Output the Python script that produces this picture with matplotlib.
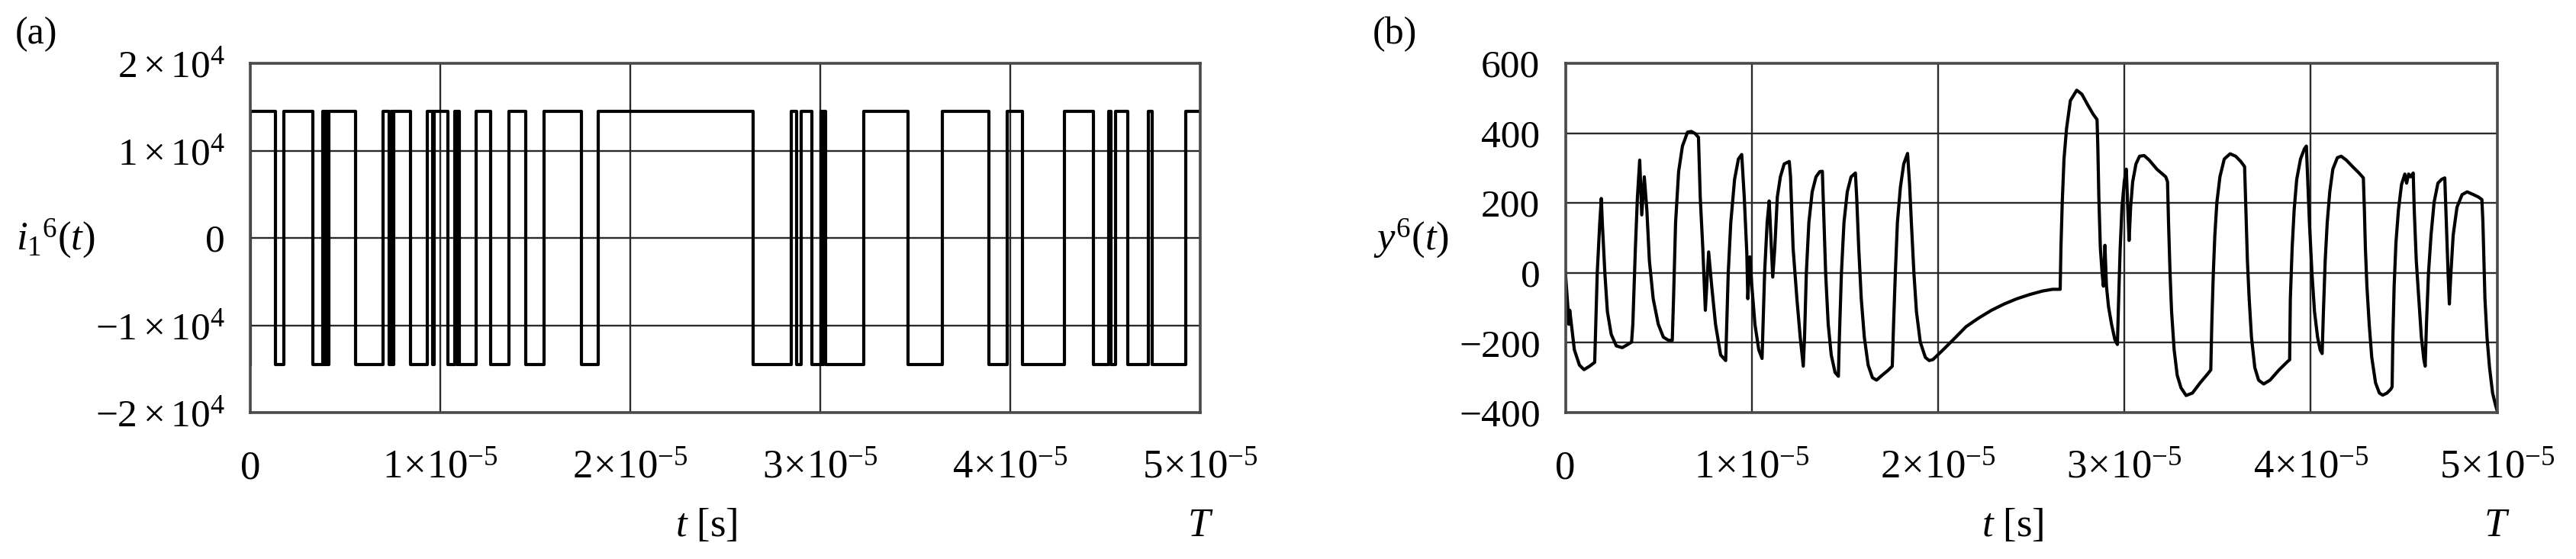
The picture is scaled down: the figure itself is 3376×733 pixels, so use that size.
import matplotlib
matplotlib.use("Agg")
import matplotlib.pyplot as plt

plt.rcParams['font.family'] = 'Liberation Serif'
plt.rcParams['mathtext.fontset'] = 'custom'
plt.rcParams['mathtext.rm'] = 'Liberation Serif'
plt.rcParams['mathtext.it'] = 'Liberation Serif:italic'

# --- data (time in units of 1e-5 s) ---
nivel_a = 14500
# instants where i_1^6 switches (first switch at t=0 goes up, then alternates)
trocas_a = [0.0, 0.133, 0.175, 0.330, 0.380, 0.390, 0.398, 0.405, 0.412, 0.555,
            0.697, 0.732, 0.742, 0.747, 0.753, 0.842, 0.933, 0.958, 0.967, 1.038,
            1.077, 1.087, 1.092, 1.100, 1.187, 1.263, 1.362, 1.450, 1.545, 1.742,
            1.830, 2.647, 2.847, 2.875, 2.897, 2.955, 3.003, 3.010, 3.017, 3.027,
            3.230, 3.463, 3.643, 3.888, 3.983, 4.063, 4.283, 4.438, 4.518, 4.530,
            4.555, 4.617, 4.727, 4.747, 4.922]

t_b = [0.0, 0.0137, 0.0177, 0.0232, 0.0478, 0.0751, 0.0996, 0.1297, 0.1570, 0.1706,
       0.1843, 0.1925, 0.1979, 0.2116, 0.2252, 0.2457, 0.2730, 0.3044, 0.3344, 0.3549,
       0.3617, 0.3754, 0.3863, 0.3986, 0.4095, 0.4232, 0.4368, 0.4505, 0.4709, 0.4982,
       0.5255, 0.5528, 0.5733, 0.5801, 0.5911, 0.6074, 0.6279, 0.6552, 0.6757, 0.6961,
       0.7139, 0.7234, 0.7371, 0.7508, 0.7685, 0.7849, 0.8054, 0.8327, 0.8600, 0.8736,
       0.8873, 0.9077, 0.9282, 0.9460, 0.9596, 0.9733, 0.9787, 0.9896, 1.0005, 1.0169,
       1.0374, 1.0551, 1.0688, 1.0824, 1.0934, 1.1125, 1.1234, 1.1370, 1.1534, 1.1739,
       1.2012, 1.2080, 1.2217, 1.2421, 1.2599, 1.2763,
       1.2831, 1.2927, 1.3063, 1.3241, 1.3445, 1.3650, 1.3787, 1.3855, 1.3964, 1.4101,
       1.4264, 1.4469, 1.4647, 1.4701, 1.4810, 1.4947, 1.5124, 1.5329, 1.5561, 1.5629,
       1.5739, 1.5875, 1.6039, 1.6244, 1.6476, 1.6694, 1.6994, 1.7336, 1.7540, 1.7609,
       1.7704, 1.7814, 1.7977, 1.8155, 1.8359, 1.8469, 1.8564, 1.8701, 1.8837, 1.9042,
       1.9315, 1.9520, 1.9724, 2.0270, 2.0816, 2.1499, 2.2181, 2.2864, 2.3546, 2.4229,
       2.4911, 2.5594, 2.6140,
       2.6549, 2.6590, 2.6659, 2.6754, 2.6891, 2.7095, 2.7436, 2.7709, 2.8050, 2.8323,
       2.8528, 2.8569, 2.8624, 2.8706, 2.8801, 2.8869, 2.8951, 2.9033, 2.9142, 2.9306,
       2.9484, 2.9620, 2.9688, 2.9770, 2.9866, 2.9989, 3.0098, 3.0180, 3.0248, 3.0330,
       3.0440, 3.0617, 3.0808, 3.1054, 3.1327, 3.1736, 3.2214, 3.2310, 3.2364, 3.2446,
       3.2528, 3.2665, 3.2829, 3.3033, 3.3306, 3.3648, 3.4057, 3.4467, 3.4631, 3.4685,
       3.4767, 3.4849, 3.4958, 3.5122, 3.5354, 3.5668, 3.5968, 3.6241, 3.6446, 3.6515,
       3.6597, 3.6692, 3.6815, 3.6993, 3.7197, 3.7470, 3.7812, 3.8290, 3.8767, 3.8863,
       3.8901, 3.8997, 3.9106, 3.9243, 3.9447, 3.9652, 3.9761, 3.9816, 3.9925, 4.0061,
       4.0198, 4.0362, 4.0498, 4.0607, 4.0676, 4.0771, 4.0880, 4.1017, 4.1181, 4.1426,
       4.1631, 4.1904, 4.2246, 4.2587, 4.2819, 4.2874, 4.2928, 4.3010, 4.3133, 4.3270,
       4.3474, 4.3679, 4.3857, 4.4089, 4.4294, 4.4362, 4.4403, 4.4471, 4.4567, 4.4703,
       4.4867, 4.5044, 4.5140, 4.5249, 4.5358, 4.5495, 4.5549, 4.5659, 4.5795, 4.5932,
       4.6068, 4.6137, 4.6205, 4.6314, 4.6451, 4.6615, 4.6820, 4.7024, 4.7188, 4.7270,
       4.7366, 4.7434, 4.7516, 4.7639, 4.7843, 4.8116, 4.8389, 4.8730, 4.9003, 4.9180,
       4.9235, 4.9290, 4.9344, 4.9454, 4.9590, 4.9754, 4.9918, 5.0]

y_b = [0, -103, -147, -107, -220, -264, -277, -267, -256, -1,
       144, 213, 144, -1, -111, -176, -209, -214, -205, -198,
       -147, 71, 217, 323, 166, 275, 181, 35, -74, -147,
       -184, -193, -193, -74, 144, 290, 363, 403, 405, 399,
       388, 217, 71, -107, 60, -38, -147, -235, -251, -1,
       144, 268, 326, 339, 217, 57, -74, 46, -38, -147,
       -220, -245, -1, 144, 206, -12, 71, 217, 275, 312,
       319, 275, 71, -74, -184, -267,
       -184, -1, 144, 232, 275, 290, 291, 181, -1, -147,
       -235, -285, -296, -184, -1, 144, 232, 275, 286, 217,
       71, -74, -184, -264, -300, -307, -293, -278, -267, -147,
       -1, 144, 246, 312, 342, 253, 144, -1, -111, -198,
       -242, -251, -248, -220, -191, -154, -129, -107, -89, -74,
       -62, -52, -47,
       -47, 71, 199, 326, 413, 493, 523, 512, 479, 454,
       439, 363, 217, 71, -1, -38, 79, -38, -96, -147,
       -191, -205, -74, 71, 188, 261, 297, 181, 93, 188,
       261, 312, 334, 336, 323, 297, 275, 261, 144, -1,
       -111, -220, -293, -329, -351, -344, -315, -289, -278, -147,
       -1, 108, 202, 275, 326, 341, 334, 319, 304, 181,
       35, -74, -184, -271, -307, -318, -307, -278, -253, -249,
       -74, 71, 181, 268, 326, 355, 363, 290, 144, -1,
       -111, -184, -220, -231, -111, 35, 144, 232, 297, 330,
       334, 323, 304, 286, 272, 181, 71, -38, -147, -242,
       -315, -344, -350, -344, -333, -326, -184, -38, 86, 181,
       253, 283, 257, 283, 275, 286, 181, 35, -74, -184,
       -249, -267, -147, -1, 108, 202, 257, 268, 272, 144,
       -1, -89, -1, 108, 188, 224, 232, 224, 217, 210,
       144, 35, -74, -184, -271, -344, -380, -395]

xticks = [0, 1, 2, 3, 4, 5]
xticklabels = ['0', r'$1\!\times\!10^{-5}$', r'$2\!\times\!10^{-5}$', r'$3\!\times\!10^{-5}$',
               r'$4\!\times\!10^{-5}$', r'$5\!\times\!10^{-5}$']
yticks_a = [-20000, -10000, 0, 10000, 20000]
yticklabels_a = [r'$-2\times10^{4}$', r'$-1\times10^{4}$', '0', r'$1\times10^{4}$', r'$2\times10^{4}$']
yticks_b = [-400, -200, 0, 200, 400, 600]

# step signal for (a)
t_a = [0.0] + trocas_a + [5.0]
i_a = [-nivel_a] + [nivel_a if k % 2 == 0 else -nivel_a for k in range(len(trocas_a))]
i_a = i_a + [i_a[-1]]

figura = plt.figure(figsize=(33.76, 7.33), dpi=100)
ax1 = figura.add_axes([0.0972, 0.2619, 0.3688, 0.6248])
ax2 = figura.add_axes([0.6077, 0.2619, 0.3617, 0.6248])

ax1.plot([t * 1e-5 for t in t_a], i_a, drawstyle='steps-post', color='black', lw=3.0)
ax2.plot([t * 1e-5 for t in t_b], y_b, color='black', lw=3.0)

for ax in (ax1, ax2):
    ax.set_xlim(0, 5e-5)
    ax.set_xticks([x * 1e-5 for x in xticks])
    ax.set_xticklabels(xticklabels, fontsize=38)
    for lab in ax.get_xticklabels():
        lab.set_verticalalignment('baseline')
    ax.tick_params(axis='x', length=0, pad=62)
    ax.tick_params(axis='y', length=0, pad=24, labelsize=37)
    ax.grid(True, color='#2a2a2a', lw=1.7)
    for s in ax.spines.values():
        s.set_color('#4a4a4a')
        s.set_linewidth(2.6)
    ax.text(0.48, -0.354, r'$t$ [s]', transform=ax.transAxes, ha='center', va='baseline', fontsize=38)
    ax.text(1.0, -0.354, r'$T$', transform=ax.transAxes, ha='center', va='baseline', fontsize=38)

ax1.set_ylim(-20000, 20000)
ax1.set_yticks(yticks_a)
ax1.set_yticklabels(yticklabels_a)
ax2.set_ylim(-400, 600)
ax2.set_yticks(yticks_b)
ax2.set_yticklabels([r'$-%d$' % -v if v < 0 else str(v) for v in yticks_b])

figura.text(48 / 3376, 1 - 45 / 733, '(a)', ha='center', va='center', fontsize=36)
figura.text(73 / 3376, 0.574, r'$i_1{}^6(t)$', ha='center', va='center', fontsize=38)
figura.text(1828 / 3376, 1 - 45 / 733, '(b)', ha='center', va='center', fontsize=36)
figura.text(1849 / 3376, 0.574, r'$y^6(t)$', ha='center', va='center', fontsize=38)

figura.savefig('out.png', dpi=100)
